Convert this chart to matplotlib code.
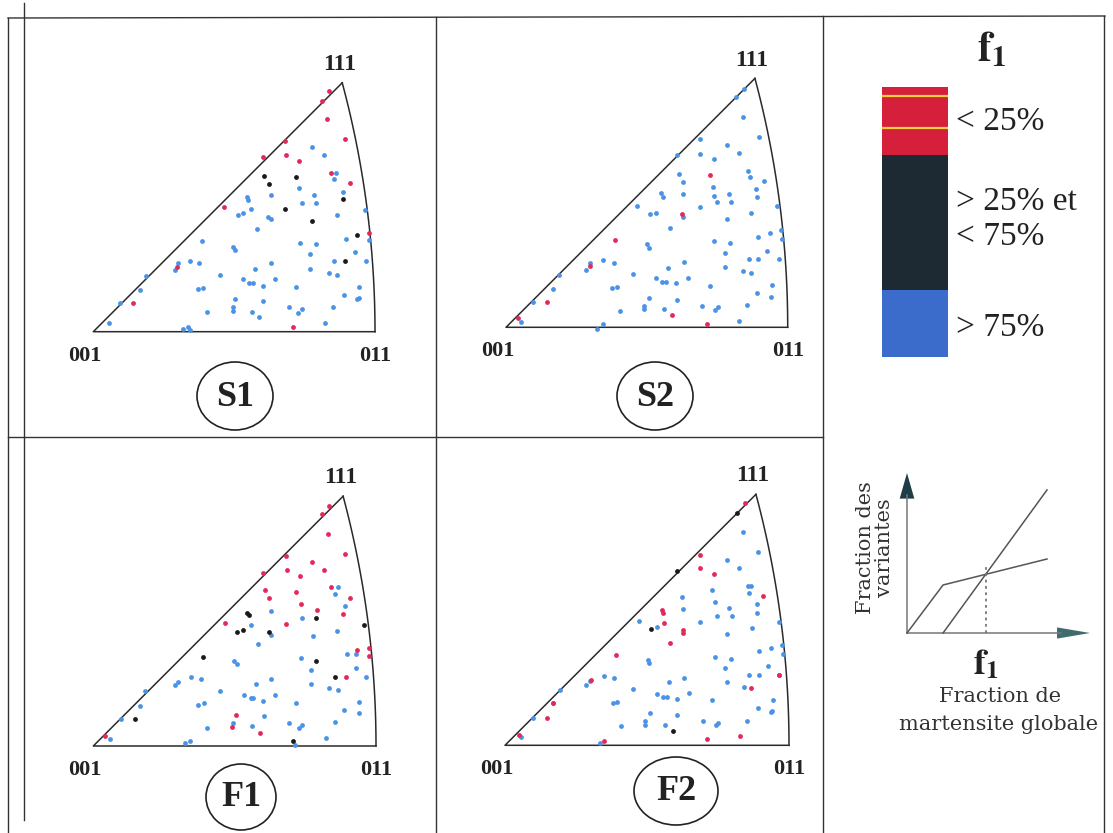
import matplotlib
matplotlib.use("Agg")

import matplotlib.pyplot as plt
from matplotlib.patches import Ellipse, Polygon
import numpy as np

plt.rcParams['font.family'] = ['Liberation Serif', 'DejaVu Serif']
plt.rcParams['mathtext.fontset'] = 'stix'

W, H = 1113, 833

# poles, in digitiser units; each panel has its own
# calibration: (x of 001, y of 001, x of 011) in those same units
S1_CAL = (40, 875, 885)
S1_RED = [(748,152),(725,182),(742,238),(795,297),(616,303),(618,346),(548,350),(657,362),
          (752,398),(810,430),(432,500),(866,578),(290,682),(160,790),(640,862)]
S1_BLACK = [(551,407),(566,432),(648,412),(616,508),(696,543),(790,478),(830,585),(795,663)]
S1_BLUE = [(697,322),(733,346),(768,398),(763,418),(658,445),(573,466),(502,470),(505,480),
           (666,490),(703,465),(707,489),(788,456),(770,525),(474,525),(488,520),(512,508),
           (565,530),(572,538),(530,568),(856,510),(365,604),(460,620),(466,630),(660,608),
           (708,613),(690,643),(798,598),(826,636),(868,600),(858,662),(572,668),(525,688),
           (330,664),(358,670),(295,670),(285,690),(198,708),(690,686),(748,698),(772,706),
           (763,663),(419,706),(488,718),(508,728),(518,730),(548,738),(585,716),(648,742),
           (353,748),(370,743),(180,751),(465,778),(548,782),(836,740),(793,766),(836,773),
           (830,778),(458,800),(458,812),(380,817),(515,815),(538,830),(626,800),(665,806),
           (655,820),(760,800),(735,848),(120,790),(88,850),(325,862),(310,868),(330,870)]

S2_CAL = (48, 862, 893)
S2_RED = [(660,405),(577,522),(376,600),(300,678),(172,786),(547,826),(650,853),(85,835)]
S2_BLACK = []
S2_BLUE = [(762,148),(738,172),(758,232),(806,292),(630,298),(712,316),(746,338),(630,342),
           (672,358),(560,345),(775,392),(780,410),(566,403),(578,427),(670,442),(821,424),
           (798,446),(716,461),(671,467),(722,485),(680,485),(578,462),(514,460),(518,470),
           (630,502),(800,472),(862,497),(782,520),(711,537),(498,518),(480,522),(442,498),
           (578,532),(540,565),(673,604),(720,610),(840,578),(805,590),(872,570),(876,597),
           (470,612),(477,625),(830,632),(704,640),(582,665),(776,658),(804,658),(868,657),
           (340,660),(372,668),(300,668),(288,690),(208,705),(535,684),(706,682),(760,692),
           (784,700),(428,702),(498,714),(516,726),(528,726),(558,730),(594,713),(660,737),
           (365,745),(380,740),(190,746),(476,774),(560,780),(846,734),(800,758),(844,770),
           (463,797),(463,808),(390,812),(522,808),(636,798),(683,800),(675,810),(770,796),
           (748,843),(128,785),(92,846),(340,852),(320,866)]

F1_CAL = (40, 888, 888)
F1_RED = [(747,167),(726,192),(743,252),(795,312),(618,318),(620,360),(550,368),(697,337),
          (733,360),(659,377),(752,412),(810,444),(554,421),(567,445),(648,427),(662,461),
          (790,492),(618,522),(436,518),(830,600),(866,593),(868,618),(797,680),(468,795),
          (455,830),(540,848),(76,858),(712,480)]
F1_BLACK = [(502,488),(506,495),(472,545),(488,540),(567,545),(709,505),(709,633),(766,680),
            (368,622),(166,808),(853,525),(640,873)]
F1_BLUE = [(773,412),(765,432),(795,468),(666,505),(574,482),(513,524),(572,555),(533,583),
           (698,557),(772,542),(827,612),(800,612),(662,625),(462,633),(470,642),(692,660),
           (828,653),(858,680),(574,686),(528,703),(332,682),(362,688),(295,695),(285,705),
           (196,723),(692,703),(748,715),(773,720),(420,722),(492,735),(512,745),(520,745),
           (548,752),(586,735),(649,758),(355,766),(372,760),(180,767),(552,798),(838,755),
           (793,780),(836,790),(458,820),(380,833),(516,829),(626,818),(665,826),(657,835),
           (765,817),(738,865),(123,808),(90,868),(330,874),(315,880),(645,885)]

F2_CAL = (45, 886, 897)
F2_RED = [(765,160),(630,314),(630,355),(673,372),(820,438),(517,480),(520,488),(522,518),
          (578,540),(580,548),(540,578),(377,615),(302,690),(190,760),(172,803),(868,674),
          (783,714),(343,872),(652,868),(750,858),(88,855)]
F2_BLACK = [(740,190),(560,362),(483,538),(548,843)]
F2_BLUE = [(760,247),(805,305),(712,330),(747,355),(773,408),(783,408),(776,428),(666,420),
           (576,440),(578,477),(675,457),(716,475),(680,497),(725,497),(800,462),(800,488),
           (630,517),(785,535),(712,552),(448,512),(500,532),(866,517),(808,604),(842,594),
           (875,584),(878,612),(676,620),(722,626),(835,648),(706,654),(473,630),(478,638),
           (582,683),(536,697),(776,674),(808,674),(866,674),(710,696),(762,710),(342,677),
           (373,684),(300,693),(288,705),(210,720),(430,717),(500,731),(518,742),(530,742),
           (562,746),(598,729),(665,750),(368,760),(382,755),(190,760),(480,788),(562,794),
           (848,750),(803,775),(846,782),(842,786),(466,812),(466,826),(392,827),(525,826),
           (640,812),(685,818),(678,826),(772,812),(130,803),(92,860),(330,880)]

# colour key (f1 classes, in % of the variant fraction)
KEY_EDGES = [0, 25, 75, 100]
KEY_COLORS = ['#d61f3a', '#1d2a33', '#3b6ccc']
KEY_TEXT = [(13, '< 25%'), (42.5, '> 25% et'), (55.5, '< 75%'), (89, '> 75%')]
KEY_STREAKS = [3.3, 15.2]

# schematic: variant fraction vs global martensite fraction
CURVE_A_X = [0.0, 0.197, 0.765]
CURVE_A_Y = [0.0, 0.300, 0.4625]
CURVE_B_X = [0.197, 0.765]
CURVE_B_Y = [0.0, 0.894]
F1_CROSS = 0.43

POINT_COLORS = {'red': '#e3285a', 'black': '#1a1a1a', 'blue': '#4b93e6'}
K011 = np.sqrt(2) - 1


def px_axes(fig, left, top, width, height):
    return fig.add_axes([left / W, 1 - (top + height) / H, width / W, height / H])


def normalise(points, cal):
    if len(points) == 0:
        return np.zeros(0), np.zeros(0)
    x001, y001, x011 = cal
    pts = np.array(points, dtype=float)
    base = x011 - x001
    return (pts[:, 0] - x001) / base, (y001 - pts[:, 1]) / base


def triangle_panel(fig, corner, base, cal, red, black, blue):
    x0, x1, y0, y1 = -0.2, 1.15, -0.3, 1.1
    cx, cy = corner
    ax = px_axes(fig, cx + x0 * base, cy - y1 * base, (x1 - x0) * base, (y1 - y0) * base)
    ax.set_xlim(x0, x1)
    ax.set_ylim(y0, y1)
    ax.axis('off')

    k = np.linspace(0, 1, 60)
    n = np.sqrt(2 + k ** 2)
    arc_x = 1 / (n + 1) / K011
    arc_y = k / (n + 1) / K011
    apex = arc_x[-1]
    ax.plot([apex, 0, 1], [apex, 0, 0], color='#2a2a2a', lw=1.1)
    ax.plot(arc_x, arc_y, color='#2a2a2a', lw=1.1)

    for pts, key in ((blue, 'blue'), (red, 'red'), (black, 'black')):
        px, py = normalise(pts, cal)
        ax.scatter(px, py, s=12, color=POINT_COLORS[key], linewidths=0, zorder=3)

    ax.text(apex - 0.01, apex + 0.065, '111', ha='center', va='center',
            fontsize=17, fontweight='bold', color='#222222')
    ax.text(-0.03, -0.085, '001', ha='center', va='center',
            fontsize=16, fontweight='bold', color='#222222')
    ax.text(1.0, -0.085, '011', ha='center', va='center',
            fontsize=16, fontweight='bold', color='#222222')
    return ax


fig = plt.figure(figsize=(W / 100, H / 100), dpi=100)
fig.patch.set_facecolor('white')

# frame of the plate, in pixel units
frame = fig.add_axes([0, 0, 1, 1])
frame.set_xlim(0, W)
frame.set_ylim(H, 0)
frame.axis('off')
line_kw = dict(color='#333333', lw=1.0)
frame.plot([8, 1105], [18, 16], **line_kw)
frame.plot([8, 8], [18, H], **line_kw)
frame.plot([24, 24], [3, 820], **line_kw)
frame.plot([436, 436], [17, H], **line_kw)
frame.plot([823, 823], [16, H], **line_kw)
frame.plot([1104, 1104], [16, H], **line_kw)
frame.plot([8, 823], [437, 437], **line_kw)

triangle_panel(fig, (93.3, 331.7), 281.7, S1_CAL, S1_RED, S1_BLACK, S1_BLUE)
triangle_panel(fig, (506, 327.3), 281.7, S2_CAL, S2_RED, S2_BLACK, S2_BLUE)
triangle_panel(fig, (93.3, 746), 282.7, F1_CAL, F1_RED, F1_BLACK, F1_BLUE)
triangle_panel(fig, (505, 745.3), 284, F2_CAL, F2_RED, F2_BLACK, F2_BLUE)

for name, (ex, ey, ew, eh) in {'S1': (235, 396, 76, 68), 'S2': (655, 396, 76, 68),
                              'F1': (241, 797, 70, 66), 'F2': (676, 791, 84, 68)}.items():
    frame.add_patch(Ellipse((ex, ey), ew, eh, fill=False, ec='#222222', lw=1.2))
    frame.text(ex, ey + 1, name, ha='center', va='center', fontsize=26,
               fontweight='bold', color='#222222')

# colour key
key = px_axes(fig, 882, 87, 66, 270)
key.set_xlim(-0.5, 0.5)
key.set_ylim(100, 0)
key.axis('off')
for lo, hi, c in zip(KEY_EDGES[:-1], KEY_EDGES[1:], KEY_COLORS):
    key.bar(0, hi - lo, bottom=lo, width=1.0, color=c, linewidth=0)
for s in KEY_STREAKS:
    key.plot([-0.5, 0.5], [s, s], color='#f2d23c', lw=1.6)
for y, txt in KEY_TEXT:
    key.text(0.62, y, txt, ha='left', va='center', fontsize=24, color='#222222',
             clip_on=False)
frame.text(992, 50, r'$\mathbf{f}_{\mathbf{1}}$', ha='center', va='center',
           fontsize=30, color='#222222')

# schematic of the f1 definition
sch = px_axes(fig, 907 - 0.3 * 183, 633 - 1.05 * 160, 1.35 * 183, 1.35 * 160)
sch.set_xlim(-0.3, 1.05)
sch.set_ylim(-0.3, 1.05)
sch.axis('off')
sch.plot([0, 0], [0, 0.86], color='#777777', lw=1.1)
sch.plot([0, 0.84], [0, 0], color='#777777', lw=1.1)
sch.add_patch(Polygon([[-0.04, 0.84], [0.04, 0.84], [0.0, 1.0]], closed=True,
                      color='#1f3d48', lw=0))
sch.add_patch(Polygon([[0.82, -0.035], [0.82, 0.035], [1.0, 0.0]], closed=True,
                      color='#3e6b6c', lw=0))
sch.plot(CURVE_A_X, CURVE_A_Y, color='#555555', lw=1.1)
sch.plot(CURVE_B_X, CURVE_B_Y, color='#555555', lw=1.1)
sch.plot([F1_CROSS, F1_CROSS], [0, 0.43], color='#777777', lw=1.3, ls=(0, (1.5, 2)))
sch.text(F1_CROSS, -0.2, r'$\mathbf{f}_{\mathbf{1}}$', ha='center', va='center',
         fontsize=26, color='#222222')
frame.text(1000, 697, 'Fraction de', ha='center', va='center', fontsize=15,
           color='#333333', family=['DejaVu Serif'])
frame.text(999, 724, 'martensite globale', ha='center', va='center', fontsize=15,
           color='#333333', family=['DejaVu Serif'])
frame.text(875, 548, 'Fraction des\nvariantes', ha='center', va='center', fontsize=15,
           rotation=90, color='#333333', family=['DejaVu Serif'], linespacing=1.0)

fig.savefig('out.png', dpi=100)
